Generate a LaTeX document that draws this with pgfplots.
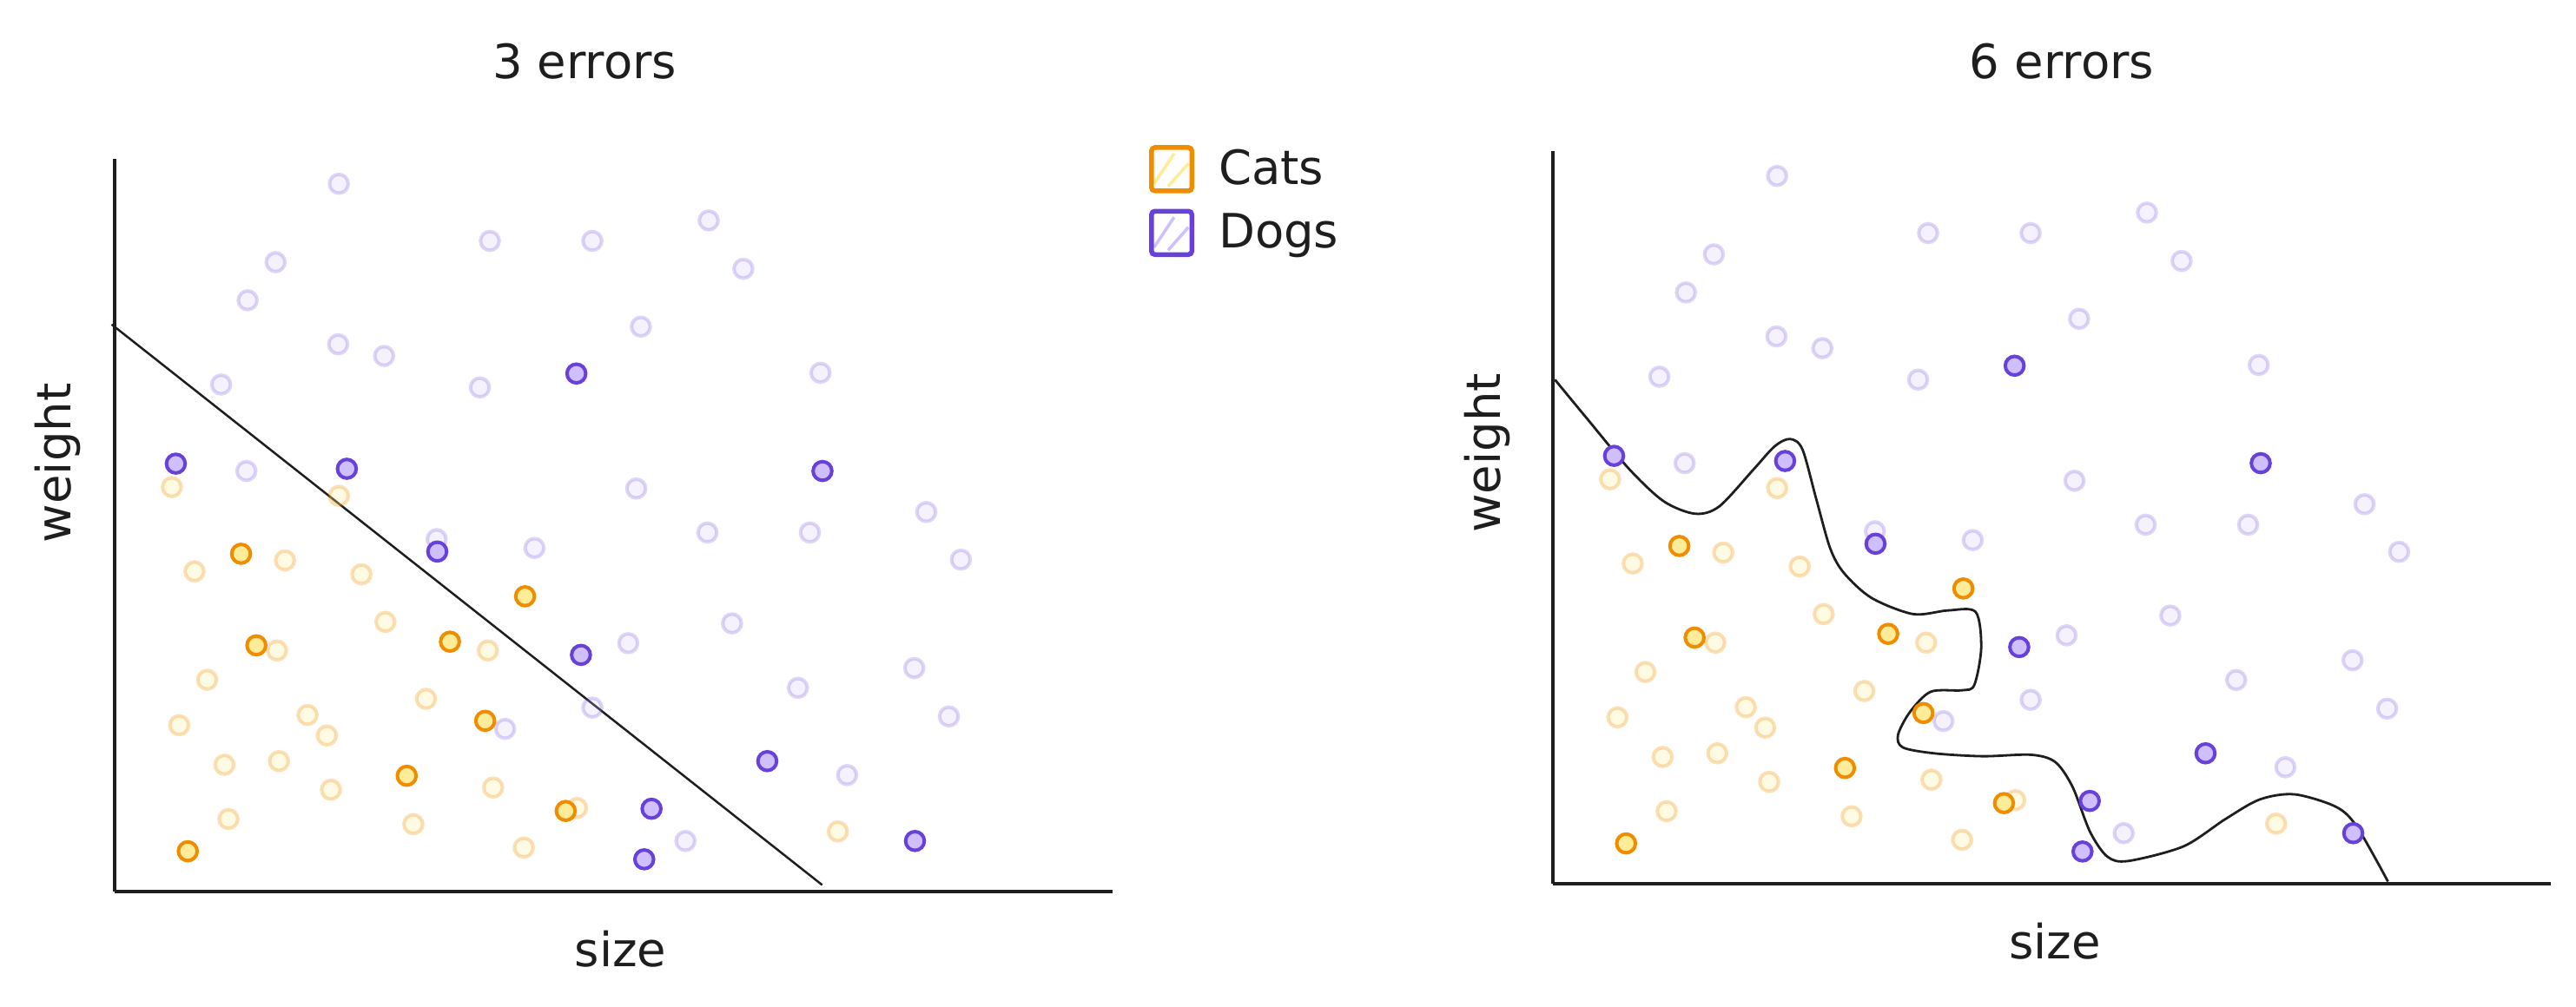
\documentclass[border=0pt]{standalone}
\usepackage{fontspec}
\setmainfont{DejaVu Sans}
\usepackage{pgfplots}
\usepackage{pgfplotstable}
\pgfplotsset{compat=1.18}
\definecolor{catstroke}{HTML}{F08C00}
\definecolor{catfill}{HTML}{FFEC99}
\definecolor{dogstroke}{HTML}{6741D9}
\definecolor{dogfill}{HTML}{D0BFFF}
\definecolor{ink}{HTML}{1E1E1E}
\newcommand\lbl{\fontsize{15.5pt}{18pt}\selectfont}

\pgfplotstableread{
x y
22.47 96.6
37.6 88.8
47.87 88.8
59.53 91.6
63.0 85.0
16.13 85.9
13.33 80.7
52.73 77.1
22.4 74.7
27.0 73.1
10.67 69.2
36.6 68.8
70.73 70.8
13.2 57.4
52.27 55.0
81.33 51.8
59.4 49.0
69.67 49.0
84.8 45.3
32.27 48.1
42.07 46.9
61.87 36.6
51.47 33.9
80.13 30.5
68.47 27.8
47.87 25.1
83.6 23.9
39.13 22.2
73.4 15.9
57.2 6.9
}\faintdogs

\pgfplotstableread{
x y
46.27 70.7
6.13 58.4
23.27 57.7
70.93 57.4
32.33 46.4
46.73 32.3
65.4 17.8
53.8 11.3
80.2 6.9
53.07 4.4
}\strongdogs

\pgfplotstableread{
x y
5.73 55.2
22.47 54.0
8.0 43.7
17.07 45.2
24.73 43.3
27.13 36.8
16.27 32.9
37.4 32.9
9.27 28.9
31.2 26.3
6.47 22.7
19.33 24.1
21.27 21.3
11.0 17.3
16.47 17.8
21.67 13.9
37.93 14.2
11.4 9.9
29.93 9.2
41.0 6.0
46.33 11.4
72.47 8.2
}\faintcats

\pgfplotstableread{
x y
12.67 46.1
41.13 40.3
14.2 33.6
33.6 34.1
37.13 23.3
29.27 15.8
45.2 11.0
7.33 5.5
}\strongcats

\pgfplotsset{
  sketch/.style={
    scale only axis, width=114.9mm, height=84.4mm,
    xmin=0, xmax=100, ymin=0, ymax=100,
    axis x line=bottom, axis y line=left,
    axis line style={-, ink, line width=0.45mm},
    xtick=\empty, ytick=\empty, clip=false,
    anchor=south west,
    title style={font=\lbl, text=ink, anchor=center, yshift=0pt},
    xlabel style={font=\lbl, text=ink, anchor=center},
    ylabel style={font=\lbl, text=ink, anchor=center},
  },
  fcat/.style={only marks, mark=*, mark size=1.08mm,
    mark options={draw=catstroke, fill=catfill, line width=0.4mm, opacity=0.28}},
  scat/.style={only marks, mark=*, mark size=1.08mm,
    mark options={draw=catstroke, fill=catfill, line width=0.4mm}},
  fdog/.style={only marks, mark=*, mark size=1.08mm,
    mark options={draw=dogstroke, fill=dogfill, line width=0.4mm, opacity=0.22}},
  sdog/.style={only marks, mark=*, mark size=1.08mm,
    mark options={draw=dogstroke, fill=dogfill, line width=0.4mm}},
}

\begin{document}
\begin{tikzpicture}
\path[use as bounding box] (0,0) rectangle (296.6mm,116mm);

\begin{axis}[sketch, at={(13.2mm,13.3mm)},
  title={3 errors}, title style={at={(axis description cs:0.471,1.108)}},
  xlabel={size}, xlabel style={at={(axis description cs:0.507,-0.078)}},
  ylabel={weight}, ylabel style={at={(axis description cs:-0.057,0.585)}},
  legend style={at={(axis description cs:1.036,1.028)}, anchor=north west,
    draw=none, fill=none, font=\lbl, text=ink, inner sep=0pt, row sep=0.4mm,
    column sep=1.6mm, nodes={inner sep=1.2mm}},
  legend cell align=left,
]
\addlegendimage{legend image code/.code={
  \draw[catfill, line width=0.35mm] (0.65mm,-1.65mm) -- (2.95mm,1.8mm);
  \draw[catfill, line width=0.35mm] (2.25mm,-2.0mm) -- (4.6mm,0.65mm);
  \draw[catstroke, line width=0.55mm, rounded corners=0.4mm] (0,-2.5mm) rectangle (5.0mm,2.5mm);
}}
\addlegendentry{Cats}
\addlegendimage{legend image code/.code={
  \draw[dogfill, line width=0.35mm] (0.65mm,-1.65mm) -- (2.95mm,1.8mm);
  \draw[dogfill, line width=0.35mm] (2.25mm,-2.0mm) -- (4.6mm,0.65mm);
  \draw[dogstroke, line width=0.55mm, rounded corners=0.4mm] (0,-2.5mm) rectangle (5.0mm,2.5mm);
}}
\addlegendentry{Dogs}
\addplot[fcat, forget plot] table {\faintcats};
\addplot[fdog, forget plot] table {\faintdogs};
\addplot[scat, forget plot] table {\strongcats};
\addplot[sdog, forget plot] table {\strongdogs};
\addplot[ink, line width=0.25mm, forget plot] coordinates {(-0.3,77.4) (70.9,0.9)};
\end{axis}

\begin{axis}[sketch, at={(178.8mm,14.2mm)},
  title={6 errors}, title style={at={(axis description cs:0.510,1.097)}},
  xlabel={size}, xlabel style={at={(axis description cs:0.503,-0.078)}},
  ylabel={weight}, ylabel style={at={(axis description cs:-0.066,0.588)}},
]
\addplot[fcat] table {\faintcats};
\addplot[fdog] table {\faintdogs};
\addplot[scat] table {\strongcats};
\addplot[sdog] table {\strongdogs};
\addplot[ink, line width=0.28mm, smooth, tension=0.5] coordinates {
(0.2,68.8) (3.47,63.4) (7.64,56.6) (11.1,52.2) (14.24,50.5) (16.67,51.5)
(20.14,56.6) (22.22,59.7) (23.75,60.7) (25.0,59.3) (26.39,52.5) (27.78,45.8)
(29.17,42.4) (31.94,39.0) (36.11,36.8) (39.58,37.3) (42.36,37.1) (42.92,32.2)
(42.22,27.1) (40.97,26.4) (37.85,26.2) (35.76,23.4) (34.58,20.3) (35.07,18.6)
(38.19,17.8) (43.06,17.4) (47.92,17.6) (50.35,16.6) (52.08,13.2) (53.82,7.1)
(55.56,3.7) (57.64,3.1) (63.19,5.1) (67.36,8.8) (70.83,11.5) (74.31,12.2)
(78.47,10.5) (80.56,7.8) (83.68,0.3)};
\end{axis}
\end{tikzpicture}
\end{document}
